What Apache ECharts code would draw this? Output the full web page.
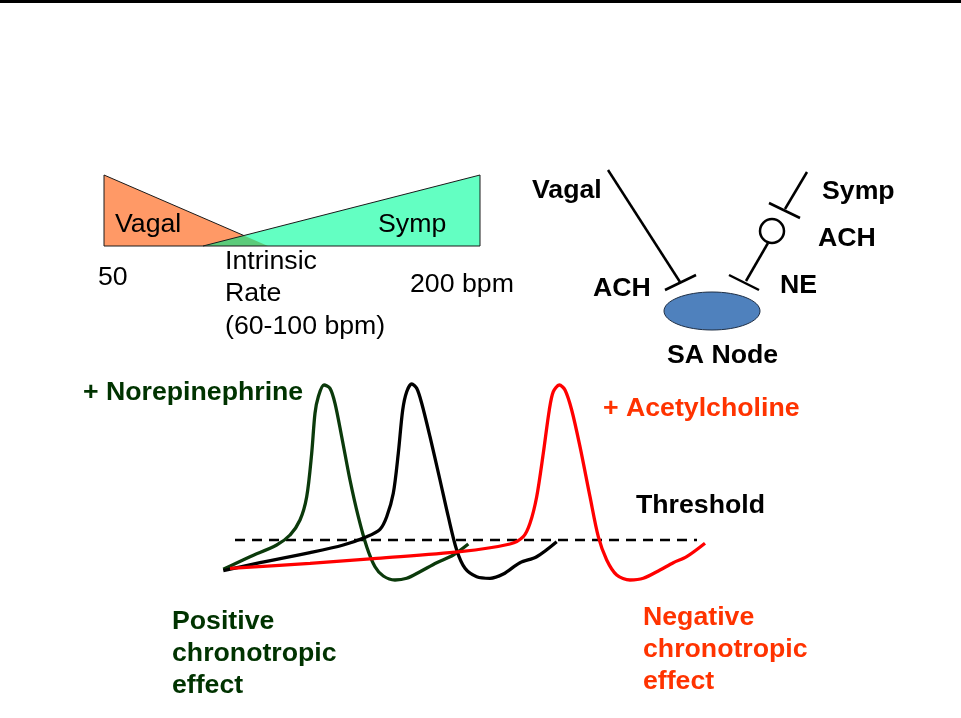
<!DOCTYPE html>
<html><head><meta charset="utf-8">
<script src="https://cdn.jsdelivr.net/npm/echarts@6/dist/echarts.min.js"></script>
<style>html,body{margin:0;padding:0;background:#fff}#c{width:961px;height:718px}</style>
</head><body><div id="c"></div>
<script>
// ---- data (pixel-space coordinates of the diagram) ----
const topBar = [[0,0],[961,0],[961,3],[0,3]];
const vagalTriangle = [[104,175],[268,246],[104,246]];
const sympTriangle = [[203,246],[480,175],[480,246]];
const overlapTriangle = [[203,246],[243.8,235.5],[268,246]];
const triangleEdges = [
  [[104,246],[104,175],[243.8,235.5]],
  [[203,246],[480,175],[480,246]],
  [[104,246],[480,246]]
];
const nerveLines = [
  [[608,170],[680,282]],
  [[665,290],[696,275]],
  [[807,172],[785,209]],
  [[769,203],[800,218]],
  [[768,243],[746,281]],
  [[729,275],[759,290]]
];
const synapseCircle = [[772,231,12]];
const saNode = [[712,311,48,19]];

const greenCurve = [[223.3,569.3],[250,556.7],[276.7,545],[290,535],[300,520],[306.7,496.7],[311.7,453.3],[315,413.3],[318.3,396.7],[324,385],[330,388.3],[335,403.3],[341.7,436.7],[350,480],[358.3,516.7],[366.7,546.7],[375,566.7],[383.3,576],[395,580],[406.7,578.3],[420,571.7],[436.7,562.7],[453.3,555],[468.3,544]];
const blackCurve = [[223.3,570.7],[260,562.7],[310,552.7],[343.3,545],[366.7,536.7],[380,529.3],[386.7,516.7],[393.3,493.3],[398.3,453.3],[402.7,410],[406.7,391.7],[411.7,384],[416.7,388.3],[421.7,403.3],[430,436.7],[440,480],[448.3,516.7],[456.7,550],[465,568.3],[476.7,576.7],[490,578.3],[503.3,574],[520,562.7],[536.7,556.7],[556.7,541.7]];
const redCurve = [[230,568.3],[310,563.3],[376.7,558.3],[460,551.7],[510,544],[523.3,536.7],[530,523.3],[536.7,496.7],[543.3,453.3],[549.3,410],[553.3,391.7],[559.3,385],[565,390],[571.7,410],[580,446.7],[590,496.7],[598.3,536.7],[606.7,560],[616.7,575],[630,580],[643.3,578.3],[660,570],[673.3,562.7],[686.7,556.7],[705,543.3]];
const thresholdLine = [[235,540],[697,540]];

// labels: [x, y, text, kind]
const labels = [
  [115,225,'Vagal','plain'],
  [378,225,'Symp','plain'],
  [98,278,'50','plain'],
  [225,262,'Intrinsic','plain'],
  [225,294,'Rate','plain'],
  [225,327,'(60-100 bpm)','plain'],
  [410,285,'200 bpm','plain'],
  [532,191,'Vagal','bold'],
  [822,192,'Symp','bold'],
  [818,239,'ACH','bold'],
  [593,289,'ACH','bold'],
  [780,286,'NE','bold'],
  [667,356,'SA Node','bold'],
  [83,393,'+ Norepinephrine','green'],
  [603,409,'+ Acetylcholine','red'],
  [636,506,'Threshold','bold'],
  [172,622,'Positive','green'],
  [172,654,'chronotropic','green'],
  [172,686,'effect','green'],
  [643,618,'Negative','red'],
  [643,650,'chronotropic','red'],
  [643,682,'effect','red']
];

// ---- styles ----
const FONT = '"Liberation Sans", Arial, sans-serif';
const labelStyle = {
  plain: {font: '26.7px ' + FONT, fill: '#000'},
  bold: {font: 'bold 26.7px ' + FONT, fill: '#000'},
  green: {font: 'bold 26.7px ' + FONT, fill: '#003300'},
  red: {font: 'bold 26.7px ' + FONT, fill: '#FF3300'}
};

const polygons = [
  {pts: topBar, fill: '#000'},
  {pts: vagalTriangle, fill: '#FF9966'},
  {pts: sympTriangle, fill: '#63FFC2'},
  {pts: overlapTriangle, fill: '#5CCB7A'}
];

const chart = echarts.init(document.getElementById('c'), null, {renderer: 'canvas'});
chart.setOption({
  animation: false,
  backgroundColor: '#fff',
  grid: {left: 0, right: 0, top: 0, bottom: 0},
  xAxis: {type: 'value', min: 0, max: 961, show: false},
  yAxis: {type: 'value', min: 0, max: 718, inverse: true, show: false},
  series: [
    {
      type: 'custom', clip: false, silent: true, z: 1,
      data: polygons.map((p, i) => [i]),
      renderItem: (params, api) => {
        const p = polygons[params.dataIndex];
        return {type: 'polygon', shape: {points: p.pts.map(pt => api.coord(pt))}, style: {fill: p.fill}};
      }
    },
    {
      type: 'custom', clip: false, silent: true, z: 2,
      data: triangleEdges.map((p, i) => [i]),
      renderItem: (params, api) => ({
        type: 'polyline',
        shape: {points: triangleEdges[params.dataIndex].map(pt => api.coord(pt))},
        style: {stroke: '#1a1a1a', lineWidth: 1, fill: null}
      })
    },
    {
      type: 'custom', clip: false, silent: true, z: 2,
      data: nerveLines.map((p, i) => [i]),
      renderItem: (params, api) => {
        const l = nerveLines[params.dataIndex];
        const a = api.coord(l[0]), b = api.coord(l[1]);
        return {type: 'line', shape: {x1: a[0], y1: a[1], x2: b[0], y2: b[1]}, style: {stroke: '#000', lineWidth: 2.5}};
      }
    },
    {
      type: 'custom', clip: false, silent: true, z: 3,
      data: synapseCircle,
      renderItem: (params, api) => {
        const c = api.coord([api.value(0), api.value(1)]);
        return {type: 'circle', shape: {cx: c[0], cy: c[1], r: api.value(2)}, style: {fill: '#fff', stroke: '#000', lineWidth: 2.5}};
      }
    },
    {
      type: 'custom', clip: false, silent: true, z: 3,
      data: saNode,
      renderItem: (params, api) => {
        const c = api.coord([api.value(0), api.value(1)]);
        return {type: 'ellipse', shape: {cx: c[0], cy: c[1], rx: api.value(2), ry: api.value(3)}, style: {fill: '#4F81BD', stroke: '#1f2f45', lineWidth: 1}};
      }
    },
    {
      type: 'line', data: thresholdLine, symbol: 'none', silent: true, z: 3,
      lineStyle: {color: '#000', width: 2.5, type: [10, 7]}
    },
    {
      type: 'line', data: greenCurve, symbol: 'none', smooth: 0.3, silent: true, z: 4,
      lineStyle: {color: '#0B3A0B', width: 3.3}
    },
    {
      type: 'line', data: blackCurve, symbol: 'none', smooth: 0.3, silent: true, z: 5,
      lineStyle: {color: '#000', width: 3.3}
    },
    {
      type: 'line', data: redCurve, symbol: 'none', smooth: 0.3, silent: true, z: 6,
      lineStyle: {color: '#FF0000', width: 3.3}
    },
    {
      type: 'custom', clip: false, silent: true, z: 10,
      data: labels.map(l => [l[0], l[1]]),
      renderItem: (params, api) => {
        const l = labels[params.dataIndex];
        const c = api.coord([l[0], l[1]]);
        const s = labelStyle[l[3]];
        return {type: 'text', x: c[0], y: c[1],
          style: {text: l[2], font: s.font, fill: s.fill, align: 'left', verticalAlign: 'middle'}};
      }
    }
  ]
});
</script></body></html>
